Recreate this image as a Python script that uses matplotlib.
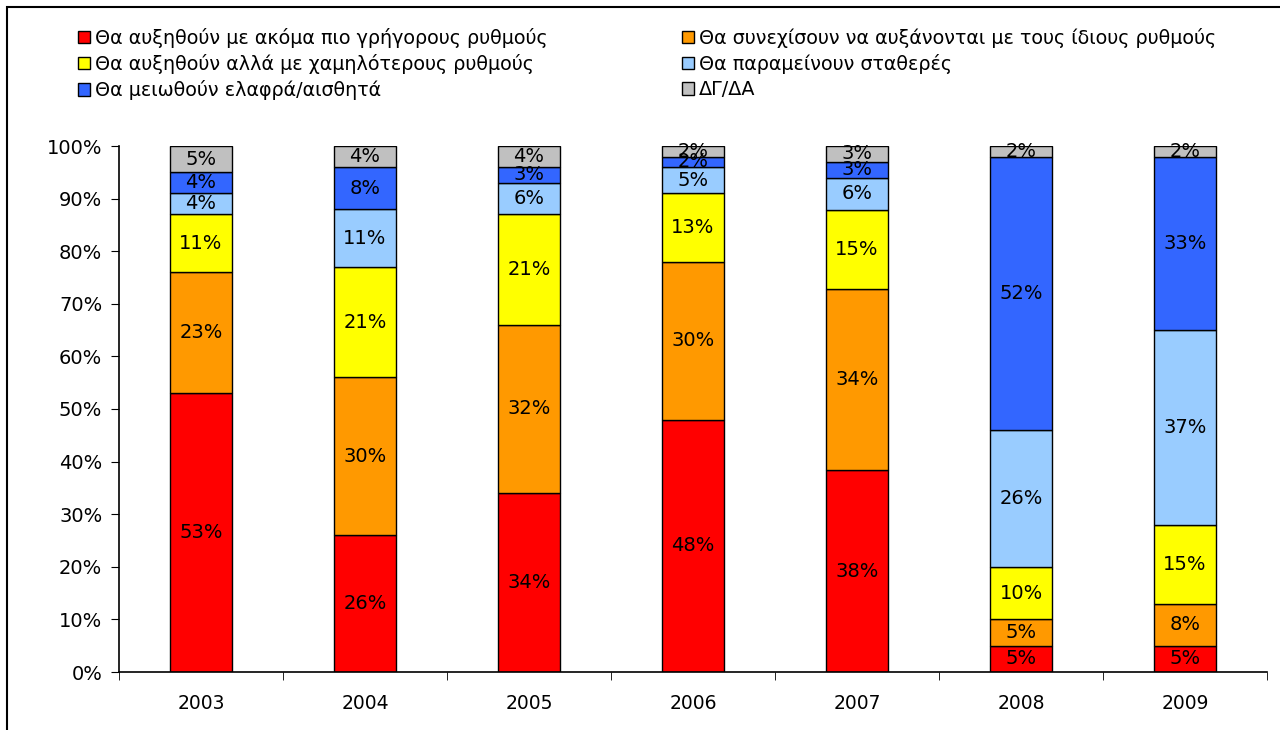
# Stacked percentage bar chart - expectations by year
import matplotlib
matplotlib.use('Agg')
import matplotlib.pyplot as plt
import numpy as np
from matplotlib.patches import Rectangle

years = ['2003', '2004', '2005', '2006', '2007', '2008', '2009']

series_names = [
    'Θα αυξηθούν με ακόμα πιο γρήγορους ρυθμούς',
    'Θα συνεχίσουν να αυξάνονται με τους ίδιους ρυθμούς',
    'Θα αυξηθούν αλλά με χαμηλότερους ρυθμούς',
    'Θα παραμείνουν σταθερές',
    'Θα μειωθούν ελαφρά/αισθητά',
    'ΔΓ/ΔΑ',
]

faster = [53, 26, 34, 48, 38.4, 5, 5]
same = [23, 30, 32, 30, 34.4, 5, 8]
slower = [11, 21, 21, 13, 15.1, 10, 15]
stable = [4, 11, 6, 5, 6.1, 26, 37]
decrease = [4, 8, 3, 2, 3.0, 52, 33]
dont_know = [5, 4, 4, 2, 3.0, 2, 2]

colors = ['#FF0000', '#FF9900', '#FFFF00', '#99CCFF', '#3366FF', '#C0C0C0']

plt.rcParams['font.family'] = ['DejaVu Sans']

fig = plt.figure(figsize=(12.8, 7.3), dpi=100)
ax = fig.add_axes([119 / 1280, 1 - 672 / 730, 1148 / 1280, (672 - 146) / 730])

# outer frame of the chart
fig.patches.append(Rectangle((7 / 1280, -0.01), 1.2, 1 - 7 / 730 + 0.01,
                             transform=fig.transFigure, fill=False,
                             edgecolor='black', linewidth=1.5))

x = np.arange(len(years))
bottom = np.zeros(len(years))
handles = []
all_series = [faster, same, slower, stable, decrease, dont_know]
for i, values in enumerate(all_series):
    values = np.array(values, dtype=float)
    bars = ax.bar(x, values, width=0.38, bottom=bottom, color=colors[i],
                  edgecolor='black', linewidth=1.0, label=series_names[i])
    handles.append(bars)
    for j in range(len(values)):
        ax.text(x[j], bottom[j] + values[j] / 2, f'{values[j]:.0f}%',
                ha='center', va='center', fontsize=14)
    bottom = bottom + values

ax.set_xlim(-0.5, len(years) - 0.5)
ax.set_ylim(0, 100)
ax.set_yticks(np.arange(0, 101, 10))
ax.set_yticklabels([f'{v}%' for v in range(0, 101, 10)], fontsize=14)
ax.set_xticks(x)
ax.set_xticklabels(years, fontsize=13.5)
ax.set_xticks(np.arange(-0.5, len(years), 1), minor=True)
ax.tick_params(axis='x', which='major', length=0, pad=16)
ax.tick_params(axis='x', which='minor', length=6, direction='out')
ax.tick_params(axis='y', length=6, direction='out', pad=6)
for side in ['top', 'right']:
    ax.spines[side].set_visible(False)
for side in ['left', 'bottom']:
    ax.spines[side].set_linewidth(1.2)

# legend: two columns, filled row by row
order = [0, 2, 4, 1, 3, 5]
fig.legend([handles[k] for k in order], [series_names[k] for k in order],
           ncol=2, loc='upper left', bbox_to_anchor=(78 / 1280, 1 - 28 / 730),
           frameon=False, fontsize=13.8, handlelength=0.6, handleheight=0.6,
           handletextpad=0.3, columnspacing=7.0, labelspacing=0.32,
           borderaxespad=0, borderpad=0)

plt.savefig('out.png', dpi=100)
plt.close()
